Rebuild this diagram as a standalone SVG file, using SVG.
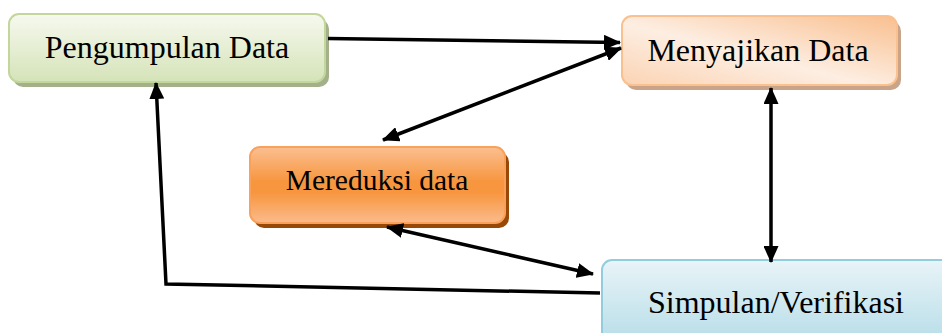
<svg xmlns="http://www.w3.org/2000/svg" width="942" height="333" viewBox="0 0 942 333">
<style>
text{font-family:"Liberation Serif","Times New Roman",serif;font-size:32px;fill:#000;text-anchor:middle}
.conn{fill:none;stroke:#000;stroke-width:3.5;stroke-linejoin:miter}
</style>
<defs>
<linearGradient id="gGreen" x1="0" y1="0" x2="0" y2="1">
<stop offset="0" stop-color="#f6f9ef"/><stop offset="1" stop-color="#d5e3b8"/>
</linearGradient>
<linearGradient id="gPeach" x1="0" y1="1" x2="1" y2="0">
<stop offset="0" stop-color="#fbd3b3"/><stop offset="0.45" stop-color="#fdeee2"/><stop offset="1" stop-color="#f9bf8f"/>
</linearGradient>
<linearGradient id="gOrange" x1="0" y1="0" x2="0" y2="1">
<stop offset="0" stop-color="#fbbf91"/><stop offset="0.45" stop-color="#f7963f"/><stop offset="0.6" stop-color="#f7963f"/><stop offset="1" stop-color="#fbbb8c"/>
</linearGradient>
<linearGradient id="gBlue" x1="0" y1="0" x2="0" y2="1">
<stop offset="0" stop-color="#e8f4f8"/><stop offset="1" stop-color="#b3dbe6"/>
</linearGradient>
<marker id="ah" viewBox="0 0 17 15" refX="16" refY="7.5" markerWidth="17" markerHeight="15" markerUnits="userSpaceOnUse" orient="auto-start-reverse">
<path d="M0,0 L17,7.5 L0,15 z" fill="#000"/>
</marker>
</defs>

<g id="node-pengumpulan">
<rect x="13" y="19" width="316" height="68" rx="10" fill="#a3b08a"/>
<rect x="9" y="14" width="316" height="68" rx="10" fill="url(#gGreen)" stroke="#c3d69b" stroke-width="2"/>
<text x="167" y="58">Pengumpulan Data</text>
</g>

<g id="node-menyajikan">
<rect x="626" y="21" width="275" height="69" rx="10" fill="#caa488"/>
<rect x="622" y="16" width="275" height="69" rx="10" fill="url(#gPeach)" stroke="#fac090" stroke-width="2"/>
<text x="758" y="61">Menyajikan Data</text>
</g>

<g id="node-mereduksi">
<rect x="254" y="152" width="255" height="76" rx="10" fill="#984807"/>
<rect x="250" y="147" width="255" height="76" rx="10" fill="url(#gOrange)" stroke="#f9a15a" stroke-width="2"/>
<text x="377" y="190" style="font-size:29.5px">Mereduksi data</text>
</g>

<g id="node-simpulan">
<rect x="602" y="260" width="350" height="90" rx="10" fill="url(#gBlue)" stroke="#93cddd" stroke-width="2"/>
<text x="776" y="313">Simpulan/Verifikasi</text>
</g>

<g id="connectors">
<path class="conn" d="M328,38.5 L620,42.5" marker-end="url(#ah)"/>
<path class="conn" d="M383,140 L621,48" marker-start="url(#ah)" marker-end="url(#ah)"/>
<path class="conn" d="M771,88 L771,262" marker-start="url(#ah)" marker-end="url(#ah)"/>
<path class="conn" d="M387,227 L593,274" marker-start="url(#ah)" marker-end="url(#ah)"/>
<path class="conn" d="M600,293 L166,284 L156,83" marker-end="url(#ah)"/>
</g>
</svg>
